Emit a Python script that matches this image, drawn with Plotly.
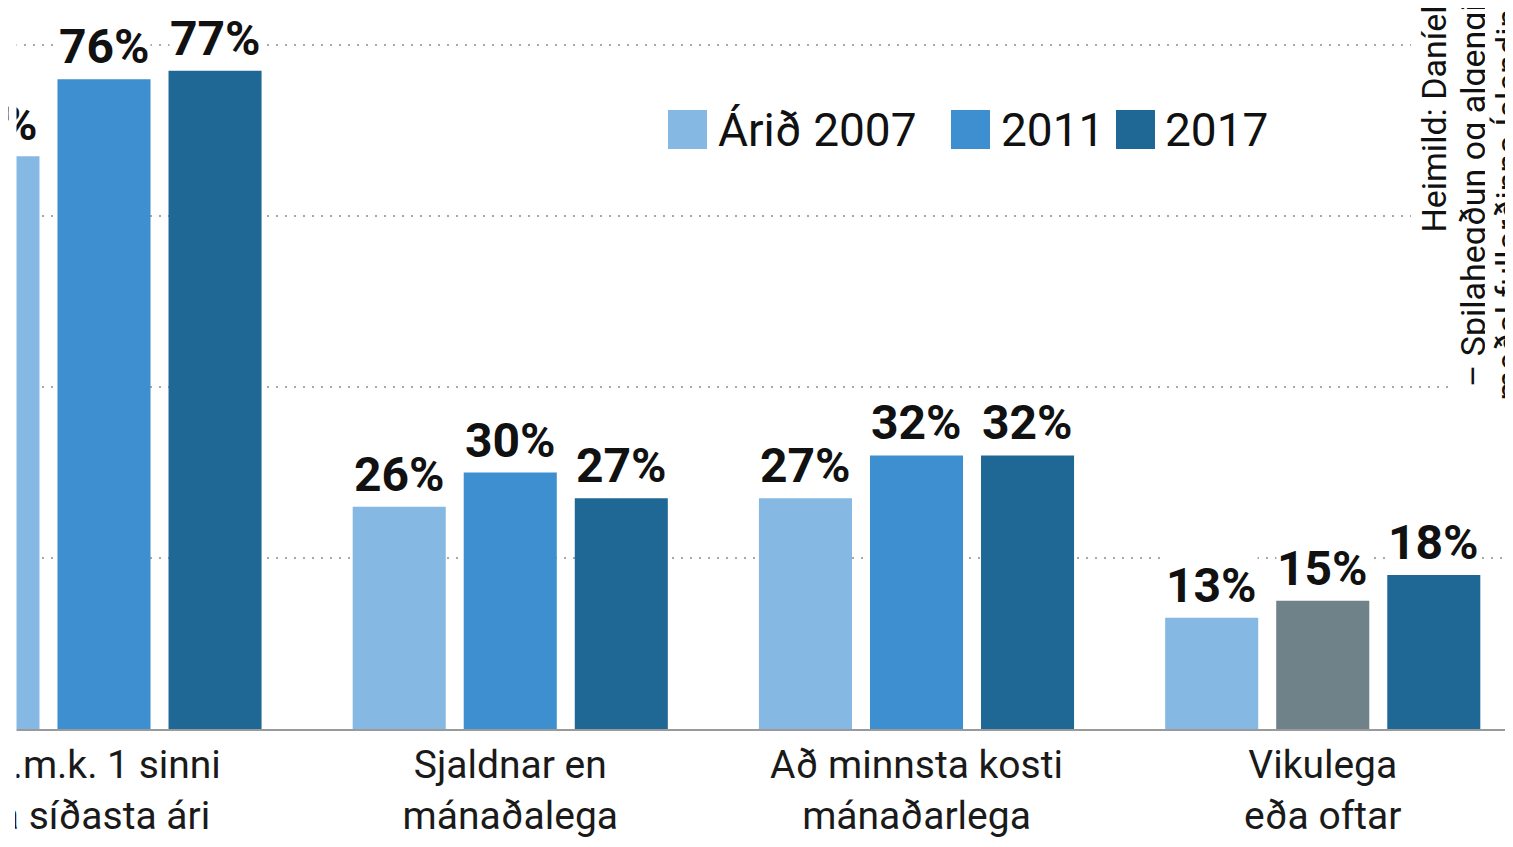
import plotly.graph_objects as go

# ---------------- data ----------------
categories = ["A.m.k. 1 sinni<br>á síðasta ári", "Sjaldnar en<br>mánaðalega",
              "Að minnsta kosti<br>mánaðarlega", "Vikulega<br>eða oftar"]
series_names = ["Árið 2007", "2011", "2017"]
values_2007 = [67, 26, 27, 13]
values_2011 = [76, 30, 32, 15]
values_2017 = [77, 27, 32, 18]
source_lines = ["Heimild: Daníel", "– Spilahegðun og algengi", "meðal fullorðinna Íslendinga"]

# ---------------- styles ----------------
C07 = "#85b8e3"
C11 = "#3d8fcf"
C17 = "#1f6896"
GREY = "#6f8189"
colors_2007 = [C07] * 4
colors_2011 = [C11, C11, C11, GREY]
colors_2017 = [C17] * 4
legend_colors = [C07, C11, C17]

OFF = 8                      # page body margin
W, H = 1513 - OFF, 847 - OFF
ML, MR, MT = 15 - OFF, 0, 0
BASE = 729                   # page y of the baseline
PH = BASE - OFF              # plot height in px
MB = H - PH
PW = W - ML - MR
PX_PER_PCT = 8.55
PX_PER_CAT = 406.25
CAT0_PX = 104                # page x of first category centre
BARGAP = 0.18
BARGROUPGAP = 0.162
FONT = "Roboto, 'Liberation Sans', sans-serif"


def px_x(px):
    return (px - OFF - ML) / PW


def px_y(py):
    return (BASE - py) / PH


xs = list(range(len(categories)))
series = [values_2007, values_2011, values_2017]
series_colors = [colors_2007, colors_2011, colors_2017]

fig = go.Figure()
for name, vals, cols in zip(series_names, series, series_colors):
    fig.add_trace(go.Bar(x=xs, y=vals, name=name, marker=dict(color=cols, line=dict(width=0)),
                         showlegend=False, hoverinfo="skip"))

annotations = []
slot = (1 - BARGAP) / len(series)
for j, vals in enumerate(series):
    for i, v in enumerate(vals):
        annotations.append(dict(
            x=i, y=v, xref="x", yref="y",
            xshift=(j - (len(series) - 1) / 2) * slot * PX_PER_CAT,
            text=f"{v}%", showarrow=False, yanchor="bottom", xanchor="center", yshift=3,
            font=dict(family=FONT, size=48, color="#111111", weight="bold"),
            bgcolor="white", borderpad=0))

# legend (manual, large squares)
legend_sq_left = [668, 951, 1116]
legend_txt_left = [716, 999, 1163]
shapes = []
for name, col, sq, tx in zip(series_names, legend_colors, legend_sq_left, legend_txt_left):
    shapes.append(dict(type="rect", xref="paper", yref="paper",
                       x0=px_x(sq), x1=px_x(sq + 39), y0=px_y(149), y1=px_y(110),
                       fillcolor=col, line=dict(width=0)))
    annotations.append(dict(x=px_x(tx), y=px_y(130), xref="paper", yref="paper",
                            text=name, showarrow=False, xanchor="left", yanchor="middle",
                            font=dict(family=FONT, size=46, color="#111111")))

# source text (rotated)
src_x = [1434, 1473, 1507]
src_bottom = [236, 390, 404]
for t, sx, sb in zip(source_lines, src_x, src_bottom):
    annotations.append(dict(x=px_x(sx), y=px_y(sb), xref="paper", yref="paper",
                            text=t, showarrow=False, textangle=-90,
                            xanchor="center", yanchor="bottom",
                            font=dict(family=FONT, size=34, color="#111111"),
                            bgcolor="white", borderpad=2))

# white strip at far left (cropped edge), above tick labels and above value labels
shapes.append(dict(type="rect", xref="paper", yref="paper", layer="above",
                   x0=px_x(-20), x1=px_x(15), y0=-0.5, y1=1.5,
                   fillcolor="white", line=dict(width=0)))
annotations.append(dict(x=px_x(OFF), y=0.5, xref="paper", yref="paper", text=" ",
                        showarrow=False, xanchor="left", yanchor="middle",
                        width=ML, height=H + 40, bgcolor="white", borderpad=0))

x0 = (15 - CAT0_PX) / PX_PER_CAT
x1 = (15 + PW - CAT0_PX) / PX_PER_CAT

fig.update_layout(
    width=W, height=H,
    margin=dict(l=ML, r=MR, t=MT, b=MB, pad=0, autoexpand=False),
    paper_bgcolor="white", plot_bgcolor="white",
    barmode="group", bargap=BARGAP, bargroupgap=BARGROUPGAP,
    showlegend=False,
    annotations=annotations, shapes=shapes,
    font=dict(family=FONT, color="#111111"),
)
fig.update_xaxes(range=[x0, x1], tickmode="array", tickvals=xs, ticktext=categories,
                 tickfont=dict(family=FONT, size=39, color="#1a1a1a"),
                 ticklabeloverflow="allow", automargin=False,
                 showline=True, linecolor="#9a9a9a", linewidth=2,
                 ticks="", showgrid=False, zeroline=False, fixedrange=True)
fig.update_yaxes(range=[0, PH / PX_PER_PCT], tickmode="array", tickvals=[20, 40, 60, 80],
                 showticklabels=False, showgrid=True, gridcolor="#a8a8a8", gridwidth=2,
                 griddash="2px,7px", zeroline=False, showline=False, fixedrange=True,
                 automargin=False)

fig.write_html("out.html")
